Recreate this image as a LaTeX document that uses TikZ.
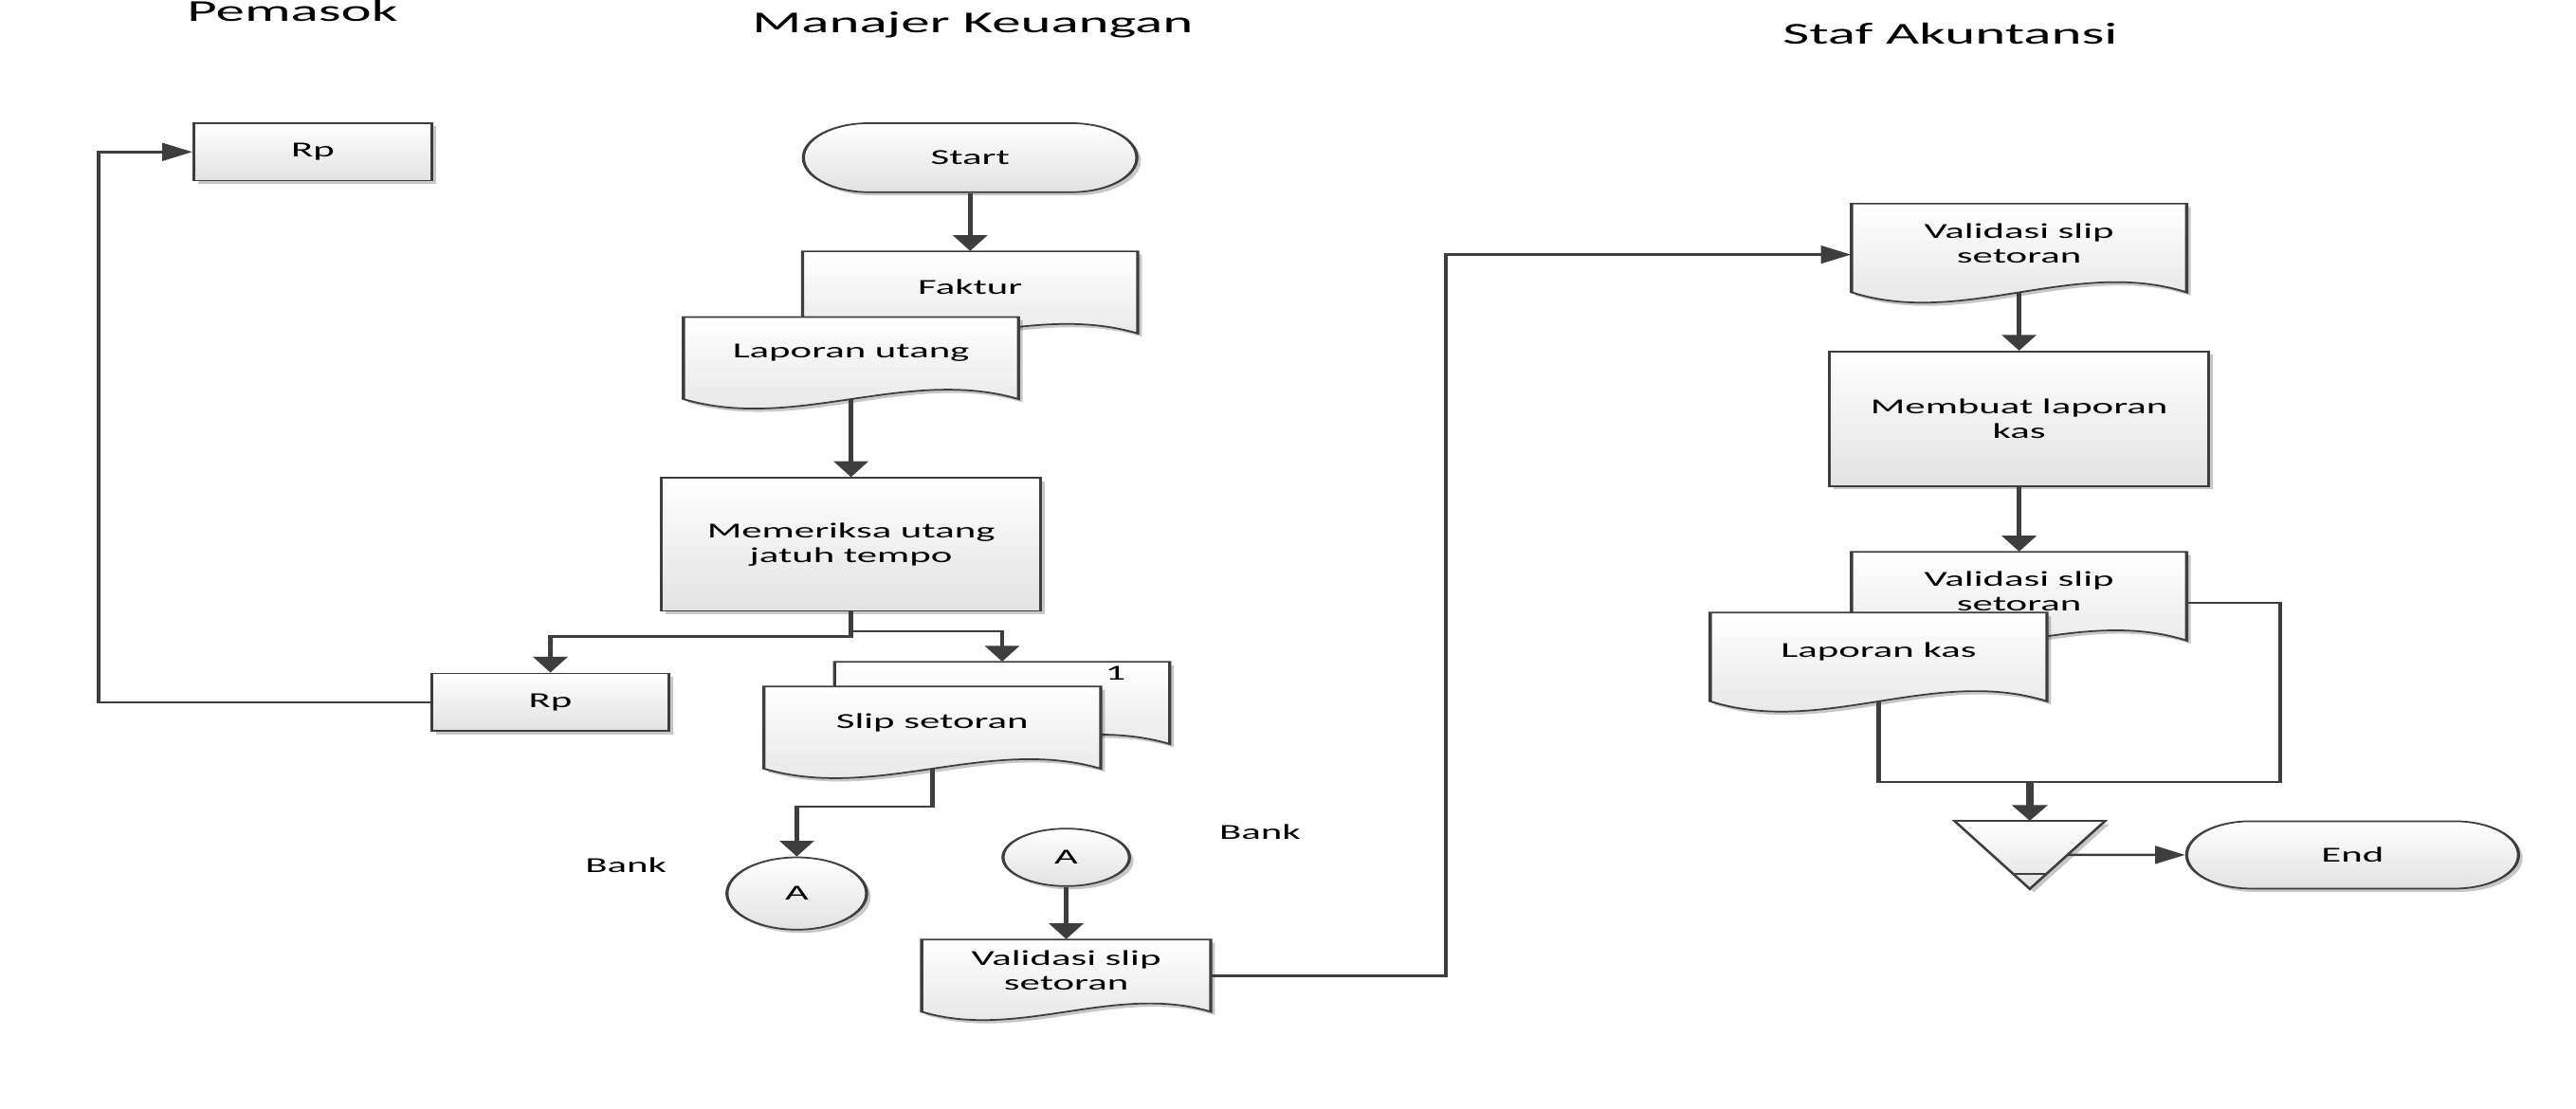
\documentclass[tikz,border=0pt]{standalone}
\usepackage{fontspec}
\setmainfont{Carlito}
\usetikzlibrary{arrows.meta,shapes.geometric,shadows,calc}
\definecolor{inkgray}{HTML}{3E3E3E}
\definecolor{fillgray}{HTML}{E2E2E2}
\tikzset{
  boxw/.style={minimum width=#1*0.526316pt},
  flowline/.style={draw=inkgray, line width=1.4pt},
  flowarrow/.style={flowline, -{Triangle[length=9.6pt,width=10.8pt]}},
  softshadow/.style={drop shadow={shadow xshift=1.3pt, shadow yshift=-2pt, opacity=0.22, fill=black}},
  shapefill/.style={draw=inkgray, line width=1pt, top color=white, bottom color=fillgray, softshadow},
  boxtext/.style={font=\fontsize{13}{15}\selectfont, align=center, text=black},
  process/.style={shapefill, boxtext, rectangle, inner sep=0pt},
  connector/.style={shapefill, boxtext, ellipse, inner sep=0pt},
  docframe/.style={rectangle, inner sep=0pt},
  lanetitle/.style={font=\fontsize{18.5}{20}\selectfont, anchor=base},
  plainlabel/.style={font=\fontsize{13}{15}\selectfont, anchor=base},
}
% document symbol: name, centre x, top y, width, height (top to wave line), text
\newcommand{\docnode}[6]{%
  \path[shapefill] ({#2-#4/2},#3) -- ({#2+#4/2},#3) -- ({#2+#4/2},{#3+#5})
    .. controls ({#2+#4/6},{#3+0.6*#5}) and ({#2-#4/6},{#3+1.4*#5}) .. ({#2-#4/2},{#3+#5}) -- cycle;
  \node[docframe, boxw=#4, minimum height=#5pt] (#1) at (#2,{#3+#5/2}) {};
  \node[boxtext, inner sep=0pt] (#1-text) at ($(#1.center)+(0,-3)$) {#6};
}
\begin{document}
\begin{tikzpicture}[x=1pt, y=-1pt]
\useasboundingbox[fill=white] (0,0) rectangle (1568,675);

% the whole chart is drawn wide: x units are narrowed and the canvas stretched back
\begin{scope}[x=0.526316pt, y=-1pt, transform canvas={xscale=1.9}]

% lane titles
\node[lanetitle] (tPemasok) at (178,13) {Pemasok};
\node[lanetitle] (tManajer) at (592,20) {Manajer Keuangan};
\node[lanetitle] (tStaf) at (1187,27) {Staf Akuntansi};

% Pemasok
\node[process, boxw=145, minimum height=35pt] (rpTop) at (190.5,92.5) {Rp};
\node[process, boxw=144, minimum height=35pt] (rpBot) at (335,427.5) {Rp};

% Manajer Keuangan
\node[process, rounded corners=21pt, boxw=203, minimum height=42pt] (start) at (590.5,96) {Start};
\docnode{faktur}{590.5}{153}{204}{50}{Faktur}
\docnode{lapUtang}{518}{193}{204}{50}{Laporan utang}
\node[process, boxw=231, minimum height=81pt] (periksa) at (518,331.5) {Memeriksa utang\\jatuh tempo};
\docnode{slipBack}{610}{403}{204}{50}{}
\node[plainlabel] (copyNo) at (679,414) {1};
\docnode{slipFront}{567.5}{418}{205}{50}{Slip setoran}
\node[connector, boxw=85, minimum height=44pt] (aLeft) at (485,544) {A};
\node[plainlabel] (bankL) at (381,531) {Bank};

% Bank
\node[plainlabel] (bankR) at (767,511) {Bank};
\node[connector, boxw=77, minimum height=35pt] (aRight) at (649,522) {A};
\docnode{valBank}{649}{572}{176}{44}{Validasi slip\\setoran}

% Staf Akuntansi
\docnode{valStaf}{1229}{124}{204}{54}{Validasi slip\\setoran}
\node[process, boxw=231, minimum height=82pt] (membuat) at (1229,255) {Membuat laporan\\kas};
\docnode{valStafB}{1229}{336}{204}{54}{Validasi slip\\setoran}
\docnode{lapKas}{1143.5}{373}{205}{54}{Laporan kas}
\node[boxw=91, minimum height=41pt, inner sep=0pt] (merge) at (1235.5,520.5) {};
\path[shapefill] (merge.north west) -- (merge.north east) -- (merge.south) -- cycle;
\draw[draw=inkgray, line width=0.9pt] ($(merge.north west)!0.78!(merge.south)$) -- ($(merge.north east)!0.78!(merge.south)$);
\node[process, rounded corners=20.5pt, boxw=202, minimum height=41pt] (finish) at (1432,520.5) {End};

% helper points for routed lines
\coordinate (leftRail) at (60,300);
\coordinate (bankRail) at (880,300);
\coordinate (loopCorner) at (1388,476);

% connectors
\draw[flowarrow] (rpBot.west) -- (rpBot.west -| leftRail) |- (rpTop.west);
\draw[flowarrow] (start.south) -- (faktur.north);
\draw[flowarrow] (lapUtang.south) -- (periksa.north);
\draw[flowarrow] (periksa.south) -- ++(0,15) -| (rpBot.north);
\draw[flowarrow] (periksa.south) -- ++(0,12) -| (slipBack.north);
\draw[flowarrow] (slipFront.south) -- ++(0,23) -| (aLeft.north);
\draw[flowarrow] (aRight.south) -- (valBank.north);
\draw[flowarrow] (valBank.east) -- (valBank.east -| bankRail) |- ($(valStaf.west)+(0,4)$);
\draw[flowarrow] (valStaf.south) -- (membuat.north);
\draw[flowarrow] (membuat.south) -- (valStafB.north);
\draw[flowline] (lapKas.south) |- (loopCorner) |- ($(valStafB.east)+(0,4)$);
\draw[flowarrow, line width=2.4pt] (merge.north |- loopCorner) -- (merge.north);
\draw[flowarrow] ($(merge.north east)!0.5!(merge.south)$) -- (finish.west);
\end{scope}
\end{tikzpicture}
\end{document}
